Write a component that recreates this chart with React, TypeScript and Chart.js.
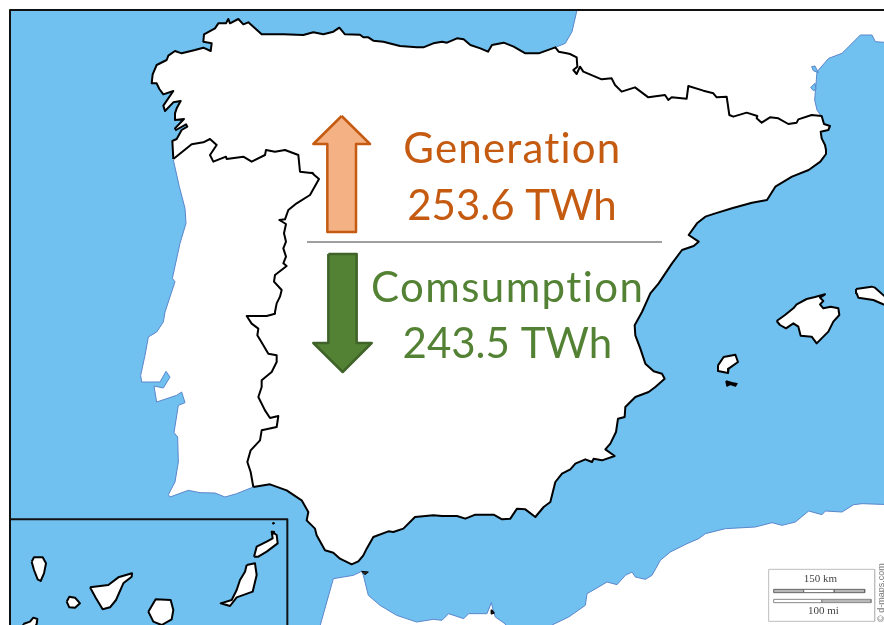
import React, { useEffect, useRef } from "react";
import { Chart, registerables } from "chart.js";

Chart.register(...registerables);

type P = [number, number];
const at = (pts: P[], dx: number, dy: number): P[] => pts.map(([x, y]) => [x + dx, y + dy]);

// Map outline, in units of a third of a pixel.
const W = 1326;
const H = 936;

const galiciaCoast: P[] = [[100,432],[97,378],[110,372],[125,345],[142,335],[138,328],[108,345],[105,340],[132,312],[105,315],[105,295],[110,280],[122,258],[100,262],[75,288],[70,272],[100,228],[70,238],[58,222],[50,205],[35,205],[38,178],[50,150],[80,135],[85,122],[105,108],[125,115],[165,105],[190,98],[212,108],[215,85],[190,80],[192,58],[225,40],[235,25],[258,25],[265,12],[270,25],[295,12],[310,28],[325,22],[345,40],[365,58],[430,58],[490,60],[520,52],[550,58],[580,50],[598,38]];
const asturiasCoast: P[] = [[1035,103],[1080,104],[1090,112],[1105,112],[1120,122],[1150,125],[1200,138],[1250,142],[1270,142],[1300,130],[1326,125]];
const cantabricCoast: P[] = [[0,125],[15,128],[45,115],[65,118],[85,135],[115,145],[138,155],[150,135],[185,128],[215,140],[250,160],[290,160],[340,142],[350,155],[374,160]];
const pyreneesBorder: P[] = [[0,12],[20,22],[22,50],[10,60],[20,72],[30,50],[40,65],[95,88],[125,85],[135,105],[155,125],[195,112],[235,142],[285,135],[295,150],[305,142],[350,146],[355,108],[400,122],[430,130],[440,142],[470,140],[478,195],[490,200],[530,188],[562,198],[560,205],[575,218],[600,202],[625,205],[655,222],[680,218],[685,208],[725,195],[755,198],[762,222],[780,228],[775,240],[752,245],[755,265],[765,285],[768,300]];
const catalanCoast: P[] = [[1152,462],[1135,485],[1100,510],[1050,530],[1000,560],[975,600],[930,608],[870,625],[820,640],[790,650],[765,670],[740,705],[770,725],[755,738],[720,750],[690,790],[650,850],[625,880],[600,936]];
const levantCoast: P[] = [[600,0],[578,40],[580,70],[595,110],[610,155],[635,178],[660,185],[668,200],[640,225],[620,240],[580,255],[550,285],[548,315],[528,320],[522,360],[505,395],[490,412],[518,432],[480,445],[455,440],[450,450],[430,442],[400,455],[385,472],[360,485],[340,510],[325,570],[305,585],[280,615],[250,592],[225,590],[205,620],[180,622],[155,608],[100,608],[70,620],[45,612],[0,612]];
const andaluciaCoast: P[] = [[1326,612],[1300,610],[1245,615],[1210,650],[1180,660],[1165,658],[1120,675],[1100,710],[1090,730],[1075,748],[1055,757],[1020,740],[1000,722],[975,715],[950,670],[945,650],[920,625],[925,600],[905,565],[860,535],[810,517],[760,525]];
const portugalSouth: P[] = [[760,525],[710,545],[675,555],[645,543],[600,542],[565,535],[510,555],[505,548],[525,510],[535,450],[533,375],[522,362],[535,280],[555,272],[545,240],[530,250],[470,270],[462,222],[490,228],[510,195],[498,178],[480,210],[425,210],[422,190],[435,130],[445,75],[470,60],[490,30],[495,0]];
const portugalNorth: P[] = [[495,936],[525,845],[517,835],[540,730],[558,670],[555,625],[538,560],[520,480]];
const borderGalicia: P[] = [[100,432],[155,388],[190,382],[210,372],[230,390],[210,420],[220,440],[258,425],[260,432],[310,425],[335,440],[375,420],[378,405],[405,410],[435,405],[475,420],[480,470],[520,475]];
const borderNorth: P[] = [[935,518],[957,537],[930,585],[890,610],[865,630],[855,658],[838,660],[858,672],[852,700],[858,725],[850,745],[858,770],[850,790],[860,798],[825,825],[822,845],[845,870],[840,890],[830,910],[825,936]];
const borderSouth: P[] = [[825,5],[800,12],[740,12],[755,35],[775,50],[772,70],[790,100],[805,125],[830,130],[830,150],[815,180],[785,205],[785,225],[775,255],[795,295],[810,318],[835,312],[830,345],[785,355],[780,385],[752,415],[742,450],[752,480],[760,525]];
const franceCoast: P[] = [[340,142],[370,130],[390,95],[405,30],[1340,30],[1340,128],[1300,125],[1290,105],[1255,105],[1200,160],[1160,175],[1125,215],[1118,300],[1125,330],[1140,352],[1140,420],[340,300],[340,142]];
const sete: P[] = [[725,50],[735,48],[745,68],[730,62],[725,50]];
const sete2: P[] = [[722,112],[735,100],[738,118],[730,122],[722,112]];
const moroccoWest: P[] = [[955,960],[1000,800],[1030,795],[1060,790],[1085,778],[1090,790],[1105,850],[1140,880],[1190,910],[1250,930],[1300,922],[1326,925],[1346,905],[1391,920],[1406,905],[1461,905],[1474,872],[1481,900],[1486,915],[1516,936],[1520,960],[955,960]];
const africaEast: P[] = [[1345,578],[1260,575],[1235,578],[1200,600],[1150,597],[1140,608],[1100,597],[1060,630],[1020,640],[990,632],[940,645],[850,650],[790,665],[770,680],[735,695],[685,720],[655,745],[630,790],[610,802],[580,795],[570,780],[550,790],[525,818],[495,810],[470,825],[435,845],[430,880],[380,915],[330,939],[320,960],[1345,960],[1345,578]];
const ceuta: P[] = [[1085,778],[1105,780],[1095,788],[1085,778]];
const melilla: P[] = [[148,893],[156,903],[148,905],[148,893]];
const mallorca: P[] = [[50,138],[75,120],[100,100],[110,88],[140,72],[165,66],[195,58],[180,68],[190,78],[180,88],[190,100],[212,95],[235,100],[238,120],[220,140],[205,170],[170,205],[155,185],[122,182],[115,155],[100,145],[78,160],[60,150],[50,138]];
const menorca: P[] = [[288,42],[335,35],[345,38],[375,65],[375,90],[340,75],[295,68],[290,55],[288,42]];
const ibiza: P[] = [[828,160],[845,135],[880,128],[888,150],[860,170],[858,183],[828,177],[828,160]];
const formentera: P[] = [[852,207],[870,212],[885,215],[880,222],[865,217],[855,222],[852,207]];
const laPalma: P[] = [[65,125],[72,112],[98,112],[108,130],[102,160],[92,183],[83,178],[72,150],[65,125]];
const tenerife: P[] = [[240,202],[295,195],[325,172],[366,160],[365,170],[340,190],[318,240],[300,262],[278,268],[258,235],[240,202]];
const gomera: P[] = [[170,245],[178,230],[195,233],[210,250],[195,263],[178,262],[170,245]];
const granCanaria: P[] = [[415,275],[437,238],[482,240],[490,270],[485,298],[455,315],[430,305],[415,275]];
const hierro: P[] = [[40,312],[60,305],[70,293],[82,297],[80,312],[70,330],[40,330],[40,312]];
const fuerteventura: P[] = [[710,135],[735,130],[740,165],[728,215],[680,232],[660,258],[632,250],[665,240],[680,210],[690,180],[705,155],[710,135]];
const lanzarote: P[] = [[732,110],[740,80],[770,65],[788,55],[785,35],[800,45],[803,70],[770,95],[745,110],[732,110]];
const graciosa: P[] = [[785,34],[793,34],[793,42],[785,42],[785,34]];
const alegranza: P[] = [[788,8],[792,8],[792,12],[788,12],[788,8]];

const generationArrow: P[] = [[1025,348],[1110,432],[1068,432],[1068,696],[982,696],[982,432],[940,432],[1025,348]];
const consumptionArrow: P[] = [[985,762],[1070,762],[1070,1029],[1115,1029],[1028,1116],[940,1029],[985,1029],[985,762]];
const divider: P[] = [[921,726],[1986,726]];
const seaRect: P[] = [[30,30],[2660,30],[2660,1890],[30,1890],[30,30]];
const insetFrame: P[] = [[30,1558],[862,1558],[862,1890]];
const topFrame: P[] = [[30,1890],[30,30],[2660,30]];

const scaleBox: P[] = [[2306,1708],[2624,1708],[2624,1864],[2306,1864],[2306,1708]];
const kmA: P[] = [[2321,1768],[2411,1768],[2411,1778],[2321,1778],[2321,1768]];
const kmB: P[] = [[2411,1768],[2503,1768],[2503,1778],[2411,1778],[2411,1768]];
const kmC: P[] = [[2503,1768],[2594,1768],[2594,1778],[2503,1778],[2503,1768]];
const miA: P[] = [[2321,1798],[2466,1798],[2466,1808],[2321,1808],[2321,1798]];
const miB: P[] = [[2466,1798],[2613,1798],[2613,1808],[2466,1808],[2466,1798]];

const labels = ["Generation", "253.6 TWh", "Comsumption", "243.5 TWh"];
const labelCentres: P[] = [[1537, 447], [1536, 618], [1523, 864], [1522, 1032]];
const labelSpacing = [1.2, 0, 1.4, 0];
const scaleLabels = ["150 km", "100 mi"];
const scaleLabelCentres: P[] = [[2461, 1737], [2470, 1833]];
const credit = "© d-maps.com";

const SEA = "#70C1EF";
const COASTLINE = "#5B86CC";
const ORANGE = "#C55A11";
const GREEN = "#548235";

const northCoast: P[] = [
  ...at(galiciaCoast, 420, 45),
  ...asturiasCoast,
  ...at(cantabricCoast, W, 0),
  ...at(pyreneesBorder, 1710, 150),
  ...at(catalanCoast, W, 0),
  ...at(levantCoast, W, H),
  ...at(andaluciaCoast, 0, H),
];
const landShape: P[] = [...northCoast, ...at(portugalSouth, 0, H), ...portugalNorth];
const border: P[] = [...at(borderGalicia, 420, 45), ...borderNorth, ...at(borderSouth, 0, H)];
const portugalLine: P[] = [...at(portugalSouth, 0, H), ...portugalNorth];
const franceLine: P[] = at(franceCoast.slice(0, 4), W, 0);
const franceLine2: P[] = at(franceCoast.slice(5, 15), W, 0);

type Layer = { pts: P[]; fill?: string; line?: string; width?: number };
const canary = (pts: P[]): P[] => at(pts, 30, 1560);
const balearic = (pts: P[]): P[] => at(pts, 2280, 825);

const layers: Layer[] = [
  { pts: seaRect, fill: SEA },
  { pts: at(franceCoast, W, 0), fill: "#FFFFFF" },
  { pts: franceLine, line: COASTLINE, width: 1 },
  { pts: franceLine2, line: COASTLINE, width: 1 },
  { pts: at(sete, 1710, 150), fill: SEA, line: COASTLINE, width: 1 },
  { pts: at(sete2, 1710, 150), fill: SEA, line: COASTLINE, width: 1 },
  { pts: landShape, fill: "#FFFFFF" },
  { pts: at(moroccoWest, 0, H), fill: "#FFFFFF", line: COASTLINE, width: 1 },
  { pts: at(africaEast, W, H), fill: "#FFFFFF", line: COASTLINE, width: 1 },
  { pts: portugalLine, line: COASTLINE, width: 1 },
  { pts: northCoast, line: "#000000", width: 2 },
  { pts: border, line: "#000000", width: 2 },
  { pts: at(ceuta, 0, H), fill: "#333333", line: "#000000", width: 1 },
  { pts: at(melilla, W, H), fill: "#333333", line: "#000000", width: 1.5 },
  { pts: balearic(mallorca), fill: "#FFFFFF", line: "#000000", width: 2 },
  { pts: balearic(menorca), fill: "#FFFFFF", line: "#000000", width: 2 },
  { pts: at(ibiza, W, H), fill: "#FFFFFF", line: "#000000", width: 2 },
  { pts: at(formentera, W, H), fill: "#000000", line: "#000000", width: 1.5 },
  { pts: insetFrame, line: "#111111", width: 2 },
  { pts: topFrame, line: "#111111", width: 2 },
  { pts: canary(laPalma), fill: "#FFFFFF", line: "#000000", width: 2 },
  { pts: canary(tenerife), fill: "#FFFFFF", line: "#000000", width: 2 },
  { pts: canary(gomera), fill: "#FFFFFF", line: "#000000", width: 2 },
  { pts: canary(granCanaria), fill: "#FFFFFF", line: "#000000", width: 2 },
  { pts: canary(hierro), fill: "#FFFFFF", line: "#000000", width: 2 },
  { pts: canary(fuerteventura), fill: "#FFFFFF", line: "#000000", width: 2 },
  { pts: canary(lanzarote), fill: "#FFFFFF", line: "#000000", width: 2 },
  { pts: canary(graciosa), fill: "#000000", line: "#000000", width: 1 },
  { pts: canary(alegranza), fill: "#000000", line: "#000000", width: 1 },
  { pts: scaleBox, fill: "#FFFFFF", line: "#BDBDBD", width: 1 },
  { pts: kmA, fill: "#B8B8B8", line: "#666666", width: 1 },
  { pts: kmB, fill: "#FFFFFF", line: "#666666", width: 1 },
  { pts: kmC, fill: "#B8B8B8", line: "#666666", width: 1 },
  { pts: miA, fill: "#FFFFFF", line: "#888888", width: 1 },
  { pts: miB, fill: "#B8B8B8", line: "#888888", width: 1 },
  { pts: divider, line: "#404040", width: 1 },
  { pts: generationArrow, fill: "#F4B183", line: ORANGE, width: 2.5 },
  { pts: consumptionArrow, fill: GREEN, line: "#3F6328", width: 2.5 },
];

const textPlugin = {
  id: "mapText",
  afterDatasetsDraw(chart: any) {
    const { ctx, scales } = chart;
    const px = ([x, y]: P): P => [scales.x.getPixelForValue(x), scales.y.getPixelForValue(y)];
    ctx.save();
    ctx.textAlign = "center";
    ctx.textBaseline = "middle";
    ctx.font = "42px Lato";
    labels.forEach((t, i) => {
      const [x, y] = px(labelCentres[i]);
      ctx.fillStyle = i < 2 ? ORANGE : GREEN;
      ctx.letterSpacing = `${labelSpacing[i]}px`;
      ctx.fillText(t, x, y);
    });
    ctx.letterSpacing = "0px";
    ctx.font = '11px "Liberation Serif"';
    ctx.fillStyle = "#444444";
    scaleLabels.forEach((t, i) => {
      const [x, y] = px(scaleLabelCentres[i]);
      ctx.fillText(t, x, y);
    });
    ctx.translate(...px([2645, 1866]));
    ctx.rotate(-Math.PI / 2);
    ctx.textAlign = "left";
    ctx.font = '9px "Liberation Sans"';
    ctx.fillStyle = "#777777";
    ctx.fillText(credit, 0, 0);
    ctx.restore();
  },
};

export default function App() {
  const ref = useRef<HTMLCanvasElement>(null);
  useEffect(() => {
    const chart = new Chart(ref.current!, {
      type: "line",
      data: {
        datasets: layers.map((l, i) => ({
          data: l.pts.map(([x, y]) => ({ x, y })),
          order: layers.length - i,
          fill: l.fill ? "shape" : false,
          backgroundColor: l.fill ?? "transparent",
          borderColor: l.line ?? "transparent",
          borderWidth: l.line ? l.width ?? 1 : 0,
          borderJoinStyle: "round",
          tension: 0,
          pointRadius: 0,
          pointHoverRadius: 0,
        })),
      } as any,
      options: {
        animation: false,
        responsive: false,
        events: [],
        layout: { padding: 0 },
        plugins: { legend: { display: false }, tooltip: { enabled: false }, title: { display: false } },
        scales: {
          x: { type: "linear", min: 0, max: 2652, display: false },
          y: { type: "linear", min: 0, max: 1875, reverse: true, display: false },
        },
      },
      plugins: [textPlugin],
    });
    return () => chart.destroy();
  }, []);
  return (
    <canvas
      ref={ref}
      width={884}
      height={625}
      style={{ position: "absolute", left: 0, top: 0, display: "block" }}
    />
  );
}
